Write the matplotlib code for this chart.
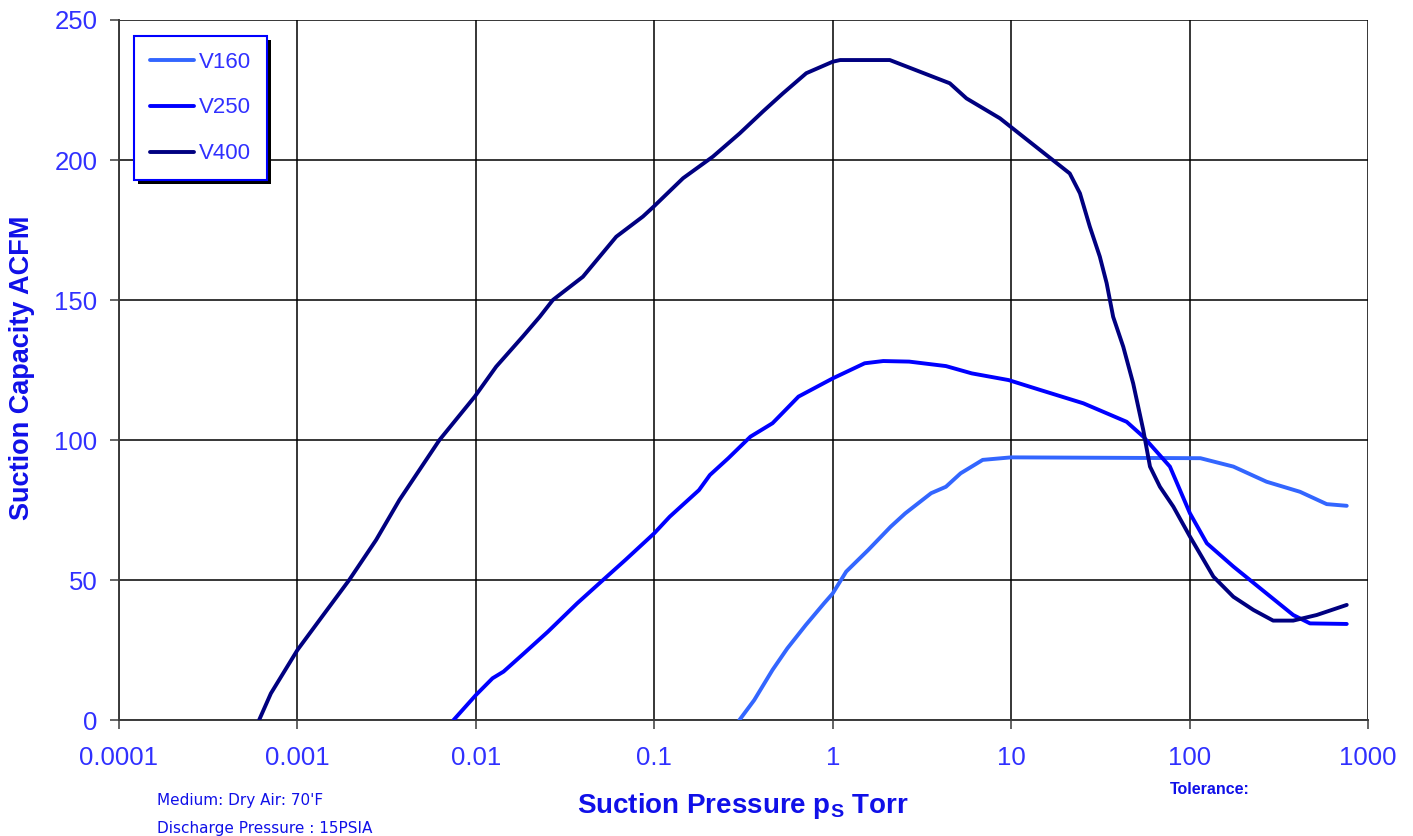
import matplotlib
matplotlib.use("Agg")
import matplotlib.pyplot as plt
from matplotlib.patches import Rectangle

# ---- data (pressure in Torr, capacity in ACFM) ----
v160_p = [0.300, 0.363, 0.460, 0.557, 0.706, 0.895, 1.0, 1.19, 1.58, 2.11, 2.55, 3.56,
          4.31, 5.21, 6.93, 10.0, 115, 176, 270, 416, 587, 760]
v160_q = [0, 7.1, 17.9, 25.6, 33.9, 41.7, 45.2, 53, 60.7, 69, 73.8, 81,
          83.3, 88.1, 92.9, 93.8, 93.5, 90.5, 85.1, 81.5, 77.1, 76.5]

v250_p = [0.0075, 0.0100, 0.0124, 0.0143, 0.0186, 0.0253, 0.0370, 0.0516, 0.0687, 0.100,
          0.122, 0.178, 0.205, 0.260, 0.346, 0.460, 0.643, 1.0, 1.51, 1.92, 2.68, 4.31,
          6.01, 9.68, 14.5, 25.4, 44.4, 55.0, 77.6, 100.5, 125, 176, 270, 381, 473, 760]
v250_q = [0, 8.9, 14.9, 17.3, 23.8, 31.5, 41.7, 50, 57.1, 66.7,
          72.6, 82.1, 87.5, 93.5, 101.2, 106, 115.5, 122, 127.4, 128.2, 128, 126.4,
          123.8, 121.4, 117.9, 113.1, 106.5, 101.2, 90.5, 73.8, 63.1, 54.8, 45.2, 37.5, 34.5, 34.3]

v400_p = [0.00061, 0.00071, 0.0010, 0.00133, 0.00195, 0.00276, 0.00373, 0.00625, 0.00986,
          0.0130, 0.0183, 0.0228, 0.0270, 0.0398, 0.0612, 0.0863, 0.099, 0.145, 0.213, 0.301,
          0.406, 0.526, 0.711, 1.0, 1.10, 2.09, 2.95, 4.53, 5.62, 8.65, 14.5, 21.3, 24.3,
          27.6, 31.4, 34.3, 37.3, 42.5, 48.3, 55.0, 60.0, 68.2, 81.1, 100.5, 136, 176, 228,
          294, 381, 516, 760]
v400_q = [0, 9.5, 25, 35.7, 50, 64.3, 78.6, 100, 115.5,
          126.2, 136.9, 144, 150, 158.3, 172.6, 179.8, 183.3, 193.5, 201.2, 209.5,
          217.3, 223.8, 231, 235.1, 235.7, 235.7, 232, 227.4, 222, 214.9, 203.6, 195.2, 188.1,
          176.2, 165.5, 156, 144, 133.3, 120.2, 103.6, 90.5, 83.3, 76.2, 65.5, 51.2, 44, 39.3,
          35.5, 35.5, 37.5, 41.1]

series_names = ["V160", "V250", "V400"]
series_colors = ["#3366FF", "#0000FF", "#000080"]

x_ticks = [0.0001, 0.001, 0.01, 0.1, 1, 10, 100, 1000]
x_tick_labels = ["0.0001", "0.001", "0.01", "0.1", "1", "10", "100", "1000"]
y_ticks = [0, 50, 100, 150, 200, 250]

TICKC = "#3030FF"
LABC = "#1010E8"
FAM = "Liberation Sans"

fig = plt.figure(figsize=(14.13, 8.36), dpi=100)
ax = fig.add_axes([119/1413, 1 - 720/836, (1368-119)/1413, 700/836])

for p, q, name, c in zip([v160_p, v250_p, v400_p], [v160_q, v250_q, v400_q],
                         series_names, series_colors):
    ax.plot(p, q, color=c, lw=2.8, label=name, solid_capstyle="round",
            solid_joinstyle="round", zorder=3)

ax.set_xscale("log")
ax.set_xlim(0.0001, 1000)
ax.set_ylim(0, 250)
ax.set_xticks(x_ticks)
ax.set_xticklabels(x_tick_labels)
ax.minorticks_off()
ax.set_yticks(y_ticks)
ax.grid(True, color="black", lw=1.1, zorder=1)
for s in ["top", "right"]:
    ax.spines[s].set_visible(False)
for s in ["left", "bottom"]:
    ax.spines[s].set_color("#3a3a3a")
    ax.spines[s].set_linewidth(1.4)
ax.tick_params(axis="both", direction="out", length=6.5, width=1.1, color="#3a3a3a",
               labelcolor=TICKC, labelsize=18.5)
ax.tick_params(axis="y", pad=9)
ax.tick_params(axis="x", pad=12)
for lab in ax.get_xticklabels() + ax.get_yticklabels():
    lab.set_fontfamily(FAM)

fig.text(22/1413, 1 - 368/836, "Suction Capacity ACFM", rotation=90, color=LABC,
         fontsize=19.5, fontweight="bold", family=FAM, ha="center", va="center")
fig.text(743/1413, 1 - 806/836, r"Suction Pressure p$_\mathregular{S}$ Torr", color=LABC,
         fontsize=20, fontweight="bold", family=FAM, ha="center", va="center")
fig.text(157/1413, 1 - 801/836, "Medium: Dry Air: 70'F", color=LABC, fontsize=11,
         family="Liberation Sans Narrow", ha="left", va="center")
fig.text(157/1413, 1 - 828/836, "Discharge Pressure : 15PSIA", color=LABC, fontsize=11,
         family="Liberation Sans Narrow", ha="left", va="center")
fig.text(1170/1413, 1 - 790/836, "Tolerance:", color=LABC, fontsize=11.5,
         fontweight="bold", family=FAM, ha="left", va="center")

# legend
leg = ax.legend(loc="upper left", bbox_to_anchor=((134-119)/1249, (720-36)/700),
                borderaxespad=0, frameon=True, fancybox=False, edgecolor="#0000FF",
                facecolor="white", framealpha=1, handlelength=2.0,
                handletextpad=0.22, labelspacing=1.12, borderpad=0.7,
                prop={"family": FAM, "size": 16})
leg.get_frame().set_linewidth(1.5)
for t in leg.get_texts():
    t.set_color(TICKC)
leg.set_zorder(5)

fig.canvas.draw()
bb = leg.get_window_extent()
inv = fig.transFigure.inverted()
(x0, y0), (x1, y1) = inv.transform([[bb.x0, bb.y0], [bb.x1, bb.y1]])
shadow = Rectangle((x0 + 4/1413, y0 - 4/836), x1 - x0, y1 - y0, transform=fig.transFigure,
                   facecolor="black", edgecolor="none", zorder=4)
ax.add_artist(shadow)
shadow.set_clip_on(False)

fig.savefig("out.png", dpi=100)
